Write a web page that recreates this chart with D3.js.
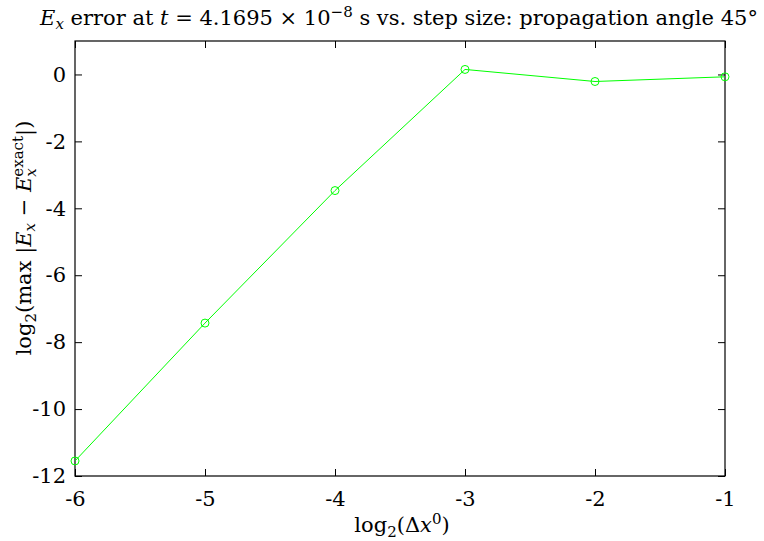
<!DOCTYPE html>
<meta charset="utf-8">
<style>
body { margin: 0; background: #fff; }
.tick line { stroke: #000; }
</style>
<svg width="764" height="541"></svg>
<script src="https://d3js.org/d3.v7.min.js"></script>
<script>

var stepLog = [-6, -5, -4, -3, -2, -1];
var errLog = [-11.55, -7.43, -3.47, 0.15, -0.21, -0.07];
var xTicks = [-6, -5, -4, -3, -2, -1];
var yTicks = [-12, -10, -8, -6, -4, -2, 0];

var serif = "'DejaVu Serif', 'Liberation Serif', serif";

var svg = d3.select("svg"),
    margin = {left: 75, right: 39, top: 41, bottom: 65},
    width = 764 - margin.left - margin.right,
    height = 541 - margin.top - margin.bottom;

var x = d3.scaleLinear().domain([-6, -1]).range([0, width]);
var y = d3.scaleLinear().domain([-12, 1]).range([height, 0]);

var g = svg.append("g").attr("transform", "translate(" + margin.left + "," + margin.top + ")");

function fmt(d) { return d < 0 ? "-" + Math.abs(d) : d; }

// ticks pointing inward on all four sides
g.append("g").attr("transform", "translate(0," + height + ")")
  .call(d3.axisBottom(x).tickValues(xTicks).tickSizeInner(-7).tickSizeOuter(0).tickPadding(15).tickFormat(fmt))
  .call(function(a) { a.select(".domain").remove(); });
g.append("g")
  .call(d3.axisTop(x).tickValues(xTicks).tickSizeInner(-7).tickSizeOuter(0).tickFormat(""))
  .call(function(a) { a.select(".domain").remove(); });
g.append("g")
  .call(d3.axisLeft(y).tickValues(yTicks).tickSizeInner(-7).tickSizeOuter(0).tickPadding(9).tickFormat(fmt))
  .call(function(a) { a.select(".domain").remove(); });
g.append("g").attr("transform", "translate(" + width + ",0)")
  .call(d3.axisRight(y).tickValues(yTicks).tickSizeInner(-7).tickSizeOuter(0).tickFormat(""))
  .call(function(a) { a.select(".domain").remove(); });

g.selectAll(".tick text").style("font-family", serif).style("font-size", "21px");

g.append("rect").attr("width", width).attr("height", height)
  .attr("fill", "none").attr("stroke", "#000").attr("stroke-width", 1.2);

var pts = stepLog.map(function(d, i) { return [d, errLog[i]]; });

g.append("path").datum(pts)
  .attr("fill", "none").attr("stroke", "#00ff00").attr("stroke-width", 1)
  .attr("d", d3.line().x(function(d) { return x(d[0]); }).y(function(d) { return y(d[1]); }));

g.selectAll("circle.pt").data(pts).enter().append("circle")
  .attr("class", "pt")
  .attr("cx", function(d) { return x(d[0]); })
  .attr("cy", function(d) { return y(d[1]); })
  .attr("r", 4).attr("fill", "none").attr("stroke", "#00ff00").attr("stroke-width", 1);

function label(sel, size) {
  return sel.style("font-family", serif).style("font-size", size + "px").attr("fill", "#000");
}

// title
var t = label(svg.append("text").attr("x", 399).attr("y", 25).attr("text-anchor", "middle"), 21);
t.append("tspan").style("font-style", "italic").text("E");
t.append("tspan").style("font-style", "italic").style("font-size", "15px").attr("dy", 4).text("x");
t.append("tspan").attr("dy", -4).text(" error at ");
t.append("tspan").style("font-style", "italic").text("t");
t.append("tspan").text(" = 4.1695 × 10");
t.append("tspan").style("font-size", "15px").attr("dy", -8).text("−8");
t.append("tspan").attr("dy", 8).text(" s vs. step size: propagation angle 45°");

// x label
var xl = label(svg.append("text").attr("x", 402).attr("y", 532).attr("text-anchor", "middle"), 21);
xl.append("tspan").text("log");
xl.append("tspan").style("font-size", "15px").attr("dy", 5).text("2");
xl.append("tspan").attr("dy", -5).text("(Δ");
xl.append("tspan").style("font-style", "italic").text("x");
xl.append("tspan").style("font-size", "15px").attr("dy", -8).text("0");
xl.append("tspan").attr("dy", 8).text(")");

// y label
var yl = label(svg.append("text").attr("transform", "translate(31,238) rotate(-90)")
  .attr("text-anchor", "middle"), 21);
yl.append("tspan").text("log");
yl.append("tspan").style("font-size", "15px").attr("dy", 5).text("2");
yl.append("tspan").attr("dy", -5).text("(max |");
yl.append("tspan").style("font-style", "italic").text("E");
yl.append("tspan").style("font-style", "italic").style("font-size", "15px").attr("dy", 4).text("x");
yl.append("tspan").attr("dy", -4).text(" − ");
yl.append("tspan").style("font-style", "italic").text("E");
var sub = yl.append("tspan").style("font-style", "italic").style("font-size", "15px").attr("dy", 5).text("x");
var subW = sub.node().getComputedTextLength();
yl.append("tspan").style("font-size", "15px").attr("dx", -subW).attr("dy", -13).text("exact");
yl.append("tspan").attr("dy", 8).text("|)");

</script>
